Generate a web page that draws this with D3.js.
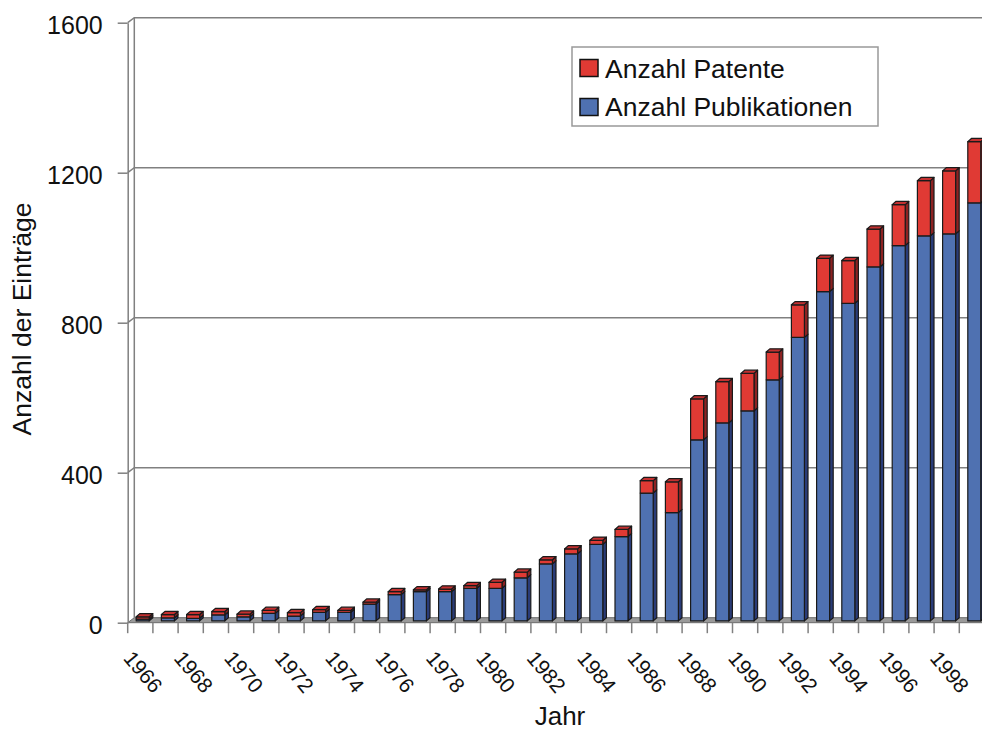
<!DOCTYPE html>
<html>
<head>
<meta charset="utf-8">
<script src="https://cdn.jsdelivr.net/npm/d3@7"></script>
<style>
  body { margin: 0; background: #fff; }
  svg { display: block; font-family: "Liberation Sans", Arial, sans-serif; }
</style>
</head>
<body>
<svg id="chart" width="982" height="731"></svg>
<script>
// values
const years = d3.range(1966, 2000);
const publikationen = [5, 8, 7, 16, 11, 20, 13, 23, 23, 45, 70, 78, 78, 87, 87, 115, 152, 179, 204, 225,
                       341, 289, 483, 528, 560, 643, 756, 878, 847, 944, 1001, 1027, 1032, 1115];
const patente = [6, 9, 10, 9, 7, 8, 9, 7, 5, 5, 8, 5, 7, 7, 16, 15, 11, 13, 11, 19,
                 33, 82, 109, 110, 100, 74, 87, 89, 114, 101, 109, 147, 168, 163];
const yTicks = [0, 400, 800, 1200, 1600];
const labelYears = years.filter(y => y % 2 === 0);

const svg = d3.select("#chart");
const left = 127.7, step = 25.2;
const wall = { dx: 6.6, dy: -5 };     // back wall offset
const shift = { dx: 1, dy: -1.8 };    // bar front face depth
const depth = { dx: 3.6, dy: -3.2 };  // bar thickness
const axisGrey = "#808080";

const x = d3.scaleBand()
    .domain(years)
    .range([left, left + step * years.length]);

const y = d3.scaleLinear()
    .domain([0, 1600])
    .range([622.7, 22.7]);

const plotRight = 990;

// floor
svg.append("polygon")
    .attr("points", [[left, y(0)], [left + wall.dx, y(0) + wall.dy], [plotRight, y(0) + wall.dy], [plotRight, y(0)]].join(" "))
    .attr("fill", "#9a9a9a")
    .attr("stroke", "#6a6a6a")
    .attr("stroke-width", 1);

// back wall gridlines + connectors
const grid = svg.append("g").attr("stroke", axisGrey).attr("stroke-width", 1.5).attr("fill", "none");
yTicks.filter(t => t > 0).forEach(t => {
    grid.append("polyline")
        .attr("points", [[left, y(t)], [left + wall.dx, y(t) + wall.dy], [plotRight, y(t) + wall.dy]].join(" "));
});
grid.append("line")
    .attr("x1", left + wall.dx).attr("x2", left + wall.dx)
    .attr("y1", y(1600) + wall.dy).attr("y2", y(0) + wall.dy);

// x tick marks at band edges
const edges = years.map(d => x(d)).concat([left + step * years.length]);
svg.append("g")
    .selectAll("line")
    .data(edges)
    .join("line")
    .attr("x1", d => d)
    .attr("x2", d => d)
    .attr("y1", y(0))
    .attr("y2", y(0) + 10.5)
    .attr("stroke", axisGrey)
    .attr("stroke-width", 1.5);

// y axis
const yAxis = svg.append("g")
    .attr("transform", `translate(${left},0)`)
    .call(d3.axisLeft(y).tickValues(yTicks).tickFormat(d3.format("d")).tickSize(10).tickSizeOuter(0).tickPadding(15));
yAxis.select(".domain").attr("stroke", axisGrey).attr("stroke-width", 1.5);
yAxis.selectAll(".tick line").attr("stroke", axisGrey).attr("stroke-width", 1.5);
yAxis.selectAll(".tick text")
    .attr("font-size", 25)
    .attr("font-family", "Liberation Sans, Arial, sans-serif")
    .attr("fill", "#111")
    .attr("dy", "0.45em");

// 3D bars
const barW = 13, barOff = 7.5;
const stacks = years.map((yr, i) => ({
    year: yr,
    segs: [
        { y0: 0, y1: publikationen[i], front: "#4f71b1", side: "#2a3c78", top: "#6a88c4" },
        { y0: publikationen[i], y1: publikationen[i] + patente[i], front: "#e03a34", side: "#8c2222", top: "#c43030" }
    ]
}));

const barG = svg.append("g")
    .attr("stroke", "#1a1a1a")
    .attr("stroke-width", 1.2)
    .attr("stroke-linejoin", "round");

stacks.forEach(s => {
    const x0 = x(s.year) + barOff + shift.dx;
    const x1 = x0 + barW;
    s.segs.forEach((seg, k) => {
        const yb = y(seg.y0) + shift.dy;
        const yt = y(seg.y1) + shift.dy;
        const g = barG.append("g");
        g.append("polygon")
            .attr("points", [[x1, yb], [x1 + depth.dx, yb + depth.dy], [x1 + depth.dx, yt + depth.dy], [x1, yt]].join(" "))
            .attr("fill", seg.side);
        g.append("rect")
            .attr("x", x0).attr("y", yt)
            .attr("width", barW).attr("height", Math.max(0, yb - yt))
            .attr("fill", seg.front);
        if (k === s.segs.length - 1) {
            g.append("polygon")
                .attr("points", [[x0, yt], [x0 + depth.dx, yt + depth.dy], [x1 + depth.dx, yt + depth.dy], [x1, yt]].join(" "))
                .attr("fill", seg.top);
        }
    });
});

// x labels
const xAxis = svg.append("g")
    .attr("transform", `translate(0,${y(0)})`)
    .call(d3.axisBottom(x).tickValues(labelYears).tickSize(0));
xAxis.select(".domain").remove();
xAxis.selectAll(".tick text")
    .attr("font-size", 21)
    .attr("font-family", "Liberation Sans, Arial, sans-serif")
    .attr("fill", "#111")
    .attr("text-anchor", "middle")
    .attr("dominant-baseline", "central")
    .attr("y", 0).attr("dy", 0)
    .attr("transform", "translate(3,49) rotate(50)");

// axis titles
svg.append("text")
    .attr("transform", "translate(31,319) rotate(-90)")
    .attr("text-anchor", "middle")
    .attr("font-size", 26.5)
    .attr("fill", "#111")
    .text("Anzahl der Einträge");

svg.append("text")
    .attr("x", 560).attr("y", 725)
    .attr("text-anchor", "middle")
    .attr("font-size", 26)
    .attr("fill", "#111")
    .text("Jahr");

// legend
const legendItems = [
    { label: "Anzahl Patente", color: "#e03a34" },
    { label: "Anzahl Publikationen", color: "#4f71b1" }
];
const legend = svg.append("g");
legend.append("rect")
    .attr("x", 572).attr("y", 47).attr("width", 306).attr("height", 79)
    .attr("fill", "#fff").attr("stroke", "#999").attr("stroke-width", 1.5);
legendItems.forEach((d, i) => {
    legend.append("rect")
        .attr("x", 580).attr("y", 59.5 + i * 39).attr("width", 18).attr("height", 17)
        .attr("fill", d.color).attr("stroke", "#111").attr("stroke-width", 1.5);
    legend.append("text")
        .attr("x", 605).attr("y", 77.5 + i * 38.5)
        .attr("font-size", 26.5)
        .attr("fill", "#111")
        .text(d.label);
});
</script>
</body>
</html>
